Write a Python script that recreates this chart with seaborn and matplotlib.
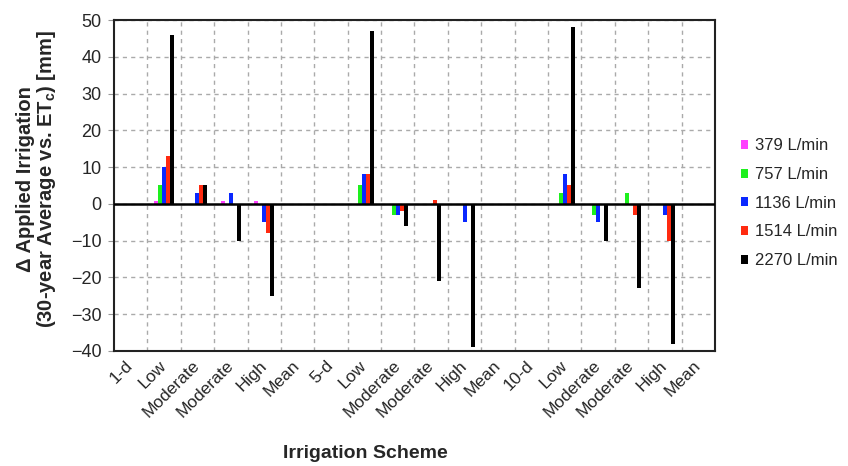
import numpy as np
import pandas as pd
import seaborn as sns
import matplotlib.pyplot as plt
from matplotlib.ticker import MultipleLocator, FixedLocator

categories = ["1-d", "Low", "Moderate", "Moderate", "High", "Mean",
              "5-d", "Low", "Moderate", "Moderate", "High", "Mean",
              "10-d", "Low", "Moderate", "Moderate", "High", "Mean"]
flows = ["379 L/min", "757 L/min", "1136 L/min", "1514 L/min", "2270 L/min"]

flow379 = [0, 0.8, 0, 0.8, 0.8, 0, 0, 0, 0, 0, 0, 0, 0, 0, 0, 0, 0, 0]
flow757 = [0, 5, 0, 0, 0, 0, 0, 5, -3, 0, 0, 0, 0, 3, -3, 3, 0, 0]
flow1136 = [0, 10, 3, 3, -5, 0, 0, 8, -3, 0, -5, 0, 0, 8, -5, 0, -3, 0]
flow1514 = [0, 13, 5, 0, -8, 0, 0, 8, -2, 1, 0, 0, 0, 5, 0, -3, -10, 0]
flow2270 = [0, 46, 5, -10, -25, 0, 0, 47, -6, -21, -39, 0, 0, 48, -10, -23, -38, 0]

colors = ["#ff40ff", "#1ef01e", "#0a28ff", "#ff2a10", "#000000"]

# long form table, one slot per category position (labels repeat)
rows = []
for flow, vals in zip(flows, [flow379, flow757, flow1136, flow1514, flow2270]):
    for i, v in enumerate(vals):
        rows.append({"slot": str(i), "flow": flow, "value": v})
df = pd.DataFrame(rows)

sns.set_style("white")
plt.rcParams["font.family"] = ["Liberation Sans", "DejaVu Sans"]

fig = plt.figure(figsize=(8.48, 4.66), dpi=100)
ax = fig.add_axes([0.1344, 0.247, 0.7087, 0.71])

order = [str(i) for i in range(len(categories))]
sns.barplot(data=df, x="slot", y="value", hue="flow", order=order, hue_order=flows,
            palette=colors, width=0.6, gap=0, linewidth=0, saturation=1,
            errorbar=None, ax=ax)

ax.set_ylim(-40, 50)
ax.set_xlim(-0.5, len(categories) - 0.5)
ax.yaxis.set_major_locator(MultipleLocator(10))
ax.set_xticks(range(len(categories)))
ax.set_xticklabels(categories, rotation=45, ha="right", va="center",
                   rotation_mode="anchor", fontsize=12.5)
ax.xaxis.set_minor_locator(FixedLocator(np.arange(0.5, len(categories) - 1, 1)))
ax.tick_params(axis="x", which="both", length=0, pad=9)
ax.tick_params(axis="y", length=4, color="#999999", labelsize=13, pad=5, left=True)

ax.grid(True, axis="y", which="major", color="#aaaaaa", linestyle=(0, (3, 3)), linewidth=1)
ax.grid(True, axis="x", which="minor", color="#aaaaaa", linestyle=(0, (3, 3)), linewidth=1)
ax.grid(False, axis="x", which="major")
ax.set_axisbelow(True)
ax.axhline(0, color="black", linewidth=1.8, zorder=3)

for s in ax.spines.values():
    s.set_color("#222222")
    s.set_linewidth(1.5)

ax.set_xlabel("Irrigation Scheme", fontsize=14, fontweight="bold", va="top")
ax.xaxis.set_label_coords(0.418, -0.285)
ax.set_ylabel("Δ Applied Irrigation\n(30-year Average vs. ET$_\\mathregular{c}$) [mm]",
              fontsize=14.5, fontweight="bold", linespacing=1.0)
ax.yaxis.set_label_coords(-0.093, 0.52)

handles, labels = ax.get_legend_handles_labels()
ax.legend(handles, labels, loc="upper left", bbox_to_anchor=(0.856, 0.735),
          bbox_transform=fig.transFigure, frameon=False, fontsize=12,
          handlelength=0.45, handleheight=0.45, handletextpad=0.4, labelspacing=0.82)

plt.savefig("out.png", dpi=100)
